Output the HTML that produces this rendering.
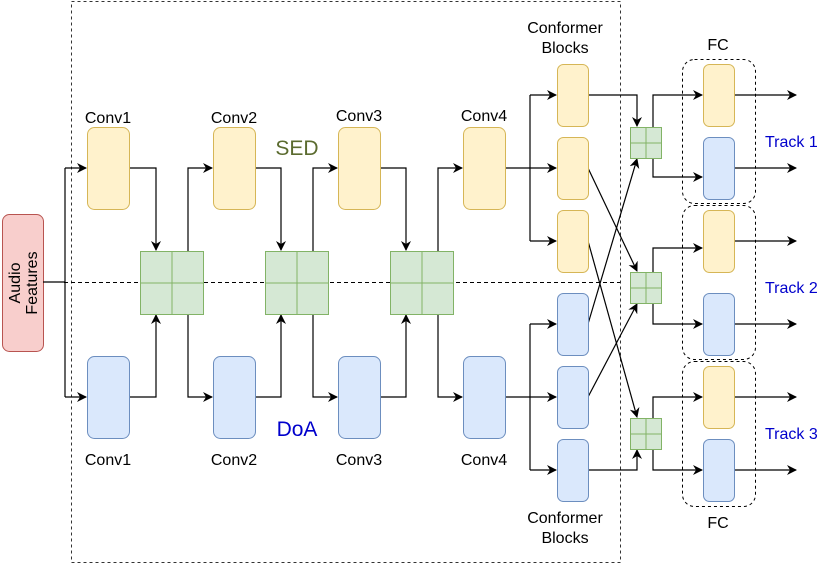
<!DOCTYPE html>
<html><head><meta charset="utf-8"><style>
html,body{margin:0;padding:0;background:#fff;}
svg{display:block;font-family:"Liberation Sans",Arial,sans-serif;}
</style></head><body>
<svg width="831" height="567" viewBox="0 0 831 567" xmlns="http://www.w3.org/2000/svg">
<defs>
<marker id="a" viewBox="0 0 10 10" refX="9" refY="5" markerWidth="10" markerHeight="10" markerUnits="userSpaceOnUse" orient="auto">
<path d="M0,0 L10,5 L0,10 L3,5 z" fill="#000"/></marker>
</defs>
<rect x="71.5" y="1.5" width="549" height="561" fill="none" stroke="#333" stroke-dasharray="3,3"/>
<line x1="64" y1="282.5" x2="620" y2="282.5" stroke="#000" stroke-dasharray="4,3"/>
<g fill="none" stroke="#000" stroke-dasharray="3,3">
<rect x="682.5" y="59.5" width="73" height="144" rx="12"/>
<rect x="682.5" y="205.5" width="73" height="154" rx="12"/>
<rect x="682.5" y="361.5" width="73" height="145" rx="12"/>
</g>
<rect x="2.5" y="214.5" width="41" height="137" rx="7" fill="#f8cecc" stroke="#b85450"/>
<text transform="translate(20,283) rotate(-90)" text-anchor="middle" font-size="16">Audio</text>
<text transform="translate(37,283) rotate(-90)" text-anchor="middle" font-size="16">Features</text>
<g fill="none" stroke="#000" stroke-width="1.2">
<path d="M43,282 H65 M65,168 V397"/>
<path d="M65,168 H86" marker-end="url(#a)"/>
<path d="M65,397 H86" marker-end="url(#a)"/>
<path d="M129,168 H156 V250" marker-end="url(#a)"/>
<path d="M129,397 H156 V315" marker-end="url(#a)"/>
<path d="M188,251 V168 H212" marker-end="url(#a)"/>
<path d="M188,314 V397 H212" marker-end="url(#a)"/>
<path d="M255,168 H281 V250" marker-end="url(#a)"/>
<path d="M255,397 H281 V315" marker-end="url(#a)"/>
<path d="M313,251 V168 H337" marker-end="url(#a)"/>
<path d="M313,314 V397 H337" marker-end="url(#a)"/>
<path d="M380,168 H406 V250" marker-end="url(#a)"/>
<path d="M380,397 H406 V315" marker-end="url(#a)"/>
<path d="M438,251 V168 H462" marker-end="url(#a)"/>
<path d="M438,314 V397 H462" marker-end="url(#a)"/>
<path d="M504,168 H530 M530,95 V241 M504,397 H530 M530,324 V470"/>
<path d="M530,95 H556" marker-end="url(#a)"/>
<path d="M530,168 H556" marker-end="url(#a)"/>
<path d="M530,241 H556" marker-end="url(#a)"/>
<path d="M530,324 H556" marker-end="url(#a)"/>
<path d="M530,397 H556" marker-end="url(#a)"/>
<path d="M530,470 H556" marker-end="url(#a)"/>
<path d="M588,95 H637 V126" marker-end="url(#a)"/>
<path d="M588,470 H637 V450" marker-end="url(#a)"/>
<path d="M588,168 L637,271" marker-end="url(#a)"/>
<path d="M588,241 L637,417" marker-end="url(#a)"/>
<path d="M588,324 L637,159" marker-end="url(#a)"/>
<path d="M588,397 L637,304" marker-end="url(#a)"/>
<path d="M653,127 V95 H702" marker-end="url(#a)"/>
<path d="M653,158 V177 H702" marker-end="url(#a)"/>
<path d="M653,272 V248 H702" marker-end="url(#a)"/>
<path d="M653,303 V324 H702" marker-end="url(#a)"/>
<path d="M653,418 V397 H702" marker-end="url(#a)"/>
<path d="M653,449 V470 H702" marker-end="url(#a)"/>
<path d="M734,95 H796" marker-end="url(#a)"/>
<path d="M734,168 H796" marker-end="url(#a)"/>
<path d="M734,241 H796" marker-end="url(#a)"/>
<path d="M734,324 H796" marker-end="url(#a)"/>
<path d="M734,397 H796" marker-end="url(#a)"/>
<path d="M734,470 H796" marker-end="url(#a)"/>
</g>
<g fill="#fff2cc" stroke="#d6b656">
<rect x="87.5" y="127.5" width="42" height="82" rx="7"/>
<rect x="213.5" y="127.5" width="42" height="82" rx="7"/>
<rect x="338.5" y="127.5" width="42" height="82" rx="7"/>
<rect x="463.5" y="127.5" width="42" height="82" rx="7"/>
<rect x="557.5" y="64.5" width="31" height="62" rx="6"/>
<rect x="557.5" y="137.5" width="31" height="62" rx="6"/>
<rect x="557.5" y="210.5" width="31" height="62" rx="6"/>
<rect x="703.5" y="64.5" width="31" height="62" rx="6"/>
<rect x="703.5" y="210.5" width="31" height="62" rx="6"/>
<rect x="703.5" y="366.5" width="31" height="62" rx="6"/>
</g>
<g fill="#dae8fc" stroke="#6c8ebf">
<rect x="87.5" y="356.5" width="42" height="82" rx="7"/>
<rect x="213.5" y="356.5" width="42" height="82" rx="7"/>
<rect x="338.5" y="356.5" width="42" height="82" rx="7"/>
<rect x="463.5" y="356.5" width="42" height="82" rx="7"/>
<rect x="557.5" y="293.5" width="31" height="62" rx="6"/>
<rect x="557.5" y="366.5" width="31" height="62" rx="6"/>
<rect x="557.5" y="439.5" width="31" height="62" rx="6"/>
<rect x="703.5" y="137.5" width="31" height="62" rx="6"/>
<rect x="703.5" y="293.5" width="31" height="62" rx="6"/>
<rect x="703.5" y="439.5" width="31" height="62" rx="6"/>
</g>
<g fill="#d5e8d4" stroke="#82b366">
<rect x="140.5" y="251.5" width="63" height="63"/><path d="M172,251 V315 M140,283 H204"/>
<rect x="265.5" y="251.5" width="63" height="63"/><path d="M297,251 V315 M265,283 H329"/>
<rect x="390.5" y="251.5" width="63" height="63"/><path d="M422,251 V315 M390,283 H454"/>
<rect x="630.5" y="127.5" width="31" height="31"/><path d="M646,127 V159 M630,143 H662"/>
<rect x="630.5" y="272.5" width="31" height="31"/><path d="M646,272 V304 M630,288 H662"/>
<rect x="630.5" y="418.5" width="31" height="31"/><path d="M646,418 V450 M630,434 H662"/>
</g>
<g font-size="16" text-anchor="middle" fill="#000">
<text x="108" y="123">Conv1</text><text x="234" y="123">Conv2</text>
<text x="359" y="121">Conv3</text><text x="484" y="121">Conv4</text>
<text x="108" y="465">Conv1</text><text x="234" y="465">Conv2</text>
<text x="359" y="465">Conv3</text><text x="484" y="465">Conv4</text>
<text x="565" y="33">Conformer</text><text x="565" y="53">Blocks</text>
<text x="565" y="523">Conformer</text><text x="565" y="543">Blocks</text>
<text x="718" y="50">FC</text><text x="718" y="528">FC</text>
</g>
<text x="297" y="155" font-size="21" text-anchor="middle" fill="#5b6b2f">SED</text>
<text x="297" y="436" font-size="21" text-anchor="middle" fill="#0000cc">DoA</text>
<g font-size="16" fill="#0000cc">
<text x="765" y="147">Track 1</text>
<text x="765" y="293">Track 2</text>
<text x="765" y="439">Track 3</text>
</g>
</svg>
</body></html>
